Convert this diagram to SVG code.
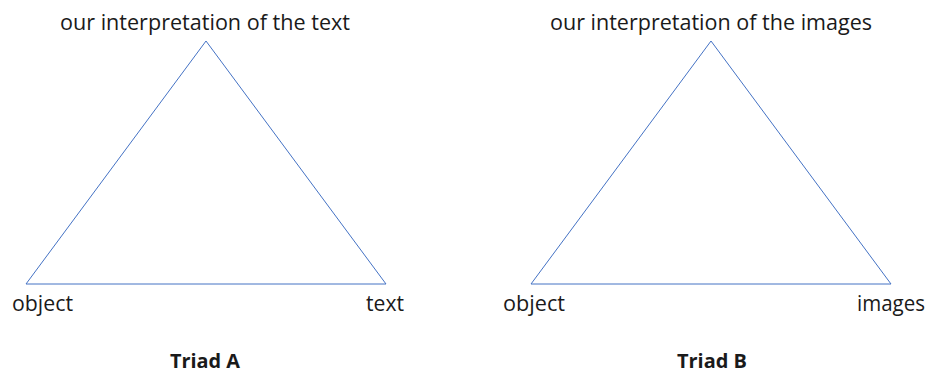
<svg xmlns="http://www.w3.org/2000/svg" width="928" height="374" viewBox="0 0 928 374">
<style>
.lbl{font-family:"Open Sans","Noto Sans","Liberation Sans",sans-serif;font-size:21px;fill:#1a1a1a}
.ttl{font-family:"Open Sans","Noto Sans","Liberation Sans",sans-serif;font-size:20px;font-weight:bold;fill:#1a1a1a}
.edge{fill:none;stroke:#4472C4;stroke-width:1}
</style>
<rect width="928" height="374" fill="#ffffff"/>
<g id="connectors">
<polygon class="edge" points="206,41 26,284 386,284"/>
<polygon class="edge" points="711,41 531,284 891,284"/>
</g>
<g id="nodeA-top"><text class="lbl" x="60" y="30" textLength="290" lengthAdjust="spacingAndGlyphs">our interpretation of the text</text></g>
<g id="nodeA-object"><text class="lbl" x="12" y="311" textLength="61" lengthAdjust="spacingAndGlyphs">object</text></g>
<g id="nodeA-text"><text class="lbl" x="366" y="311" textLength="38" lengthAdjust="spacingAndGlyphs">text</text></g>
<g id="titleA"><text class="ttl" x="170" y="368" textLength="70" lengthAdjust="spacingAndGlyphs">Triad A</text></g>
<g id="nodeB-top"><text class="lbl" x="550" y="30" textLength="322" lengthAdjust="spacingAndGlyphs">our interpretation of the images</text></g>
<g id="nodeB-object"><text class="lbl" x="503" y="311" textLength="62" lengthAdjust="spacingAndGlyphs">object</text></g>
<g id="nodeB-images"><text class="lbl" x="857" y="311" textLength="68" lengthAdjust="spacingAndGlyphs">images</text></g>
<g id="titleB"><text class="ttl" x="677" y="368" textLength="70" lengthAdjust="spacingAndGlyphs">Triad B</text></g>
</svg>
